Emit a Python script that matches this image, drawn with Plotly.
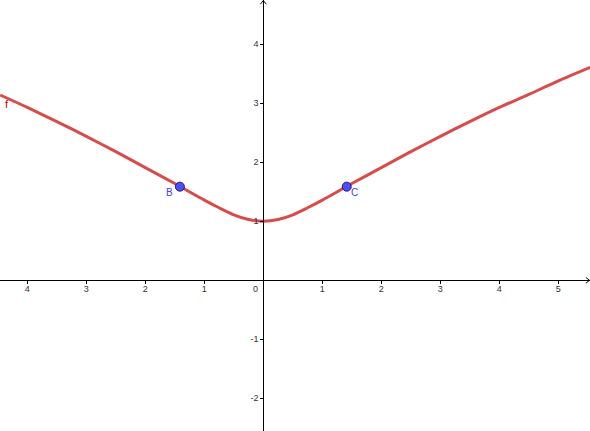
import plotly.graph_objects as go

# Curve f
curve_x = [-4.46, -4.0, -3.5, -3.0, -2.5, -2.0, -1.5, -1.0, -0.75, -0.5, -0.25, 0.0,
           0.25, 0.5, 0.75, 1.0, 1.5, 2.0, 2.5, 3.0, 3.5, 4.0, 4.5, 5.0, 5.54]
curve_y = [3.14, 2.93, 2.69, 2.44, 2.18, 1.91, 1.64, 1.36, 1.23, 1.11, 1.03, 1.00,
           1.03, 1.11, 1.23, 1.36, 1.64, 1.91, 2.18, 2.44, 2.69, 2.93, 3.15, 3.38, 3.61]

# Points
pt_names = ["B", "C"]
pt_x = [-1.414, 1.414]
pt_y = [1.587, 1.587]

# Axis ticks
x_tickvals = [-4, -3, -2, -1, 1, 2, 3, 4, 5]
x_ticktext = ["4", "3", "2", "1", "1", "2", "3", "4", "5"]
y_tickvals = [-2, -1, 1, 2, 3, 4]
y_ticktext = ["-2", "-1", "1", "2", "3", "4"]

W, H = 590, 431
x0, x1 = -4.463, 5.537
y0, y1 = -2.554, 4.751

fig = go.Figure()

fig.add_trace(go.Scatter(
    x=curve_x, y=curve_y, mode="lines",
    line=dict(color="#d94b4b", width=3, shape="spline", smoothing=0.8),
    hoverinfo="skip", showlegend=False))

fig.add_trace(go.Scatter(
    x=pt_x, y=pt_y, mode="markers",
    marker=dict(size=9, color="#4d4dff", line=dict(color="#1a1a66", width=1)),
    showlegend=False))

for name, px, py, xs in zip(pt_names, pt_x, pt_y, [-10, 8]):
    fig.add_annotation(x=px, y=py, xref="x", yref="y", text=name, showarrow=False,
                       xanchor="center", yanchor="middle", xshift=xs, yshift=-6,
                       font=dict(family="Liberation Sans", size=10, color="#4040ff"))

fig.add_annotation(x=curve_x[0], y=curve_y[0], xref="x", yref="y", text="f",
                   showarrow=False, xanchor="left", yanchor="top", xshift=3, yshift=-1,
                   font=dict(family="Liberation Sans", size=11, color="#cc0000"))

fig.add_annotation(x=0, y=0, xref="x", yref="y", text="0",
                   showarrow=False, xanchor="right", yanchor="top", xshift=-3, yshift=-2,
                   font=dict(family="Liberation Sans", size=9, color="#333333"))

# Arrow heads at ends of axes
fig.add_shape(type="path", xref="x", yref="y",
              path=f"M {x1-0.07} 0.05 L {x1-0.01} 0 L {x1-0.07} -0.05",
              line=dict(color="black", width=1))
fig.add_shape(type="path", xref="x", yref="y",
              path=f"M -0.05 {y1-0.07} L 0 {y1-0.01} L 0.05 {y1-0.07}",
              line=dict(color="black", width=1))

xpos = (0 - x0) / (x1 - x0)
ypos = (0 - y0) / (y1 - y0)

fig.update_layout(
    width=W, height=H,
    margin=dict(l=0, r=0, t=0, b=0),
    paper_bgcolor="white", plot_bgcolor="white",
    xaxis=dict(range=[x0, x1], showgrid=False, zeroline=False,
               anchor="free", position=ypos,
               showline=True, linecolor="black", linewidth=1,
               ticks="outside", ticklen=3, tickcolor="black", tickwidth=1,
               ticklabelstandoff=-3,
               tickvals=x_tickvals, ticktext=x_ticktext,
               tickfont=dict(family="Liberation Sans", size=9, color="#333333")),
    yaxis=dict(range=[y0, y1], showgrid=False, zeroline=False,
               anchor="free", position=xpos,
               showline=True, linecolor="black", linewidth=1,
               ticks="outside", ticklen=3, tickcolor="black", tickwidth=1,
               tickvals=y_tickvals, ticktext=y_ticktext,
               tickfont=dict(family="Liberation Sans", size=9, color="#333333")),
)

fig.write_html("out.html")
